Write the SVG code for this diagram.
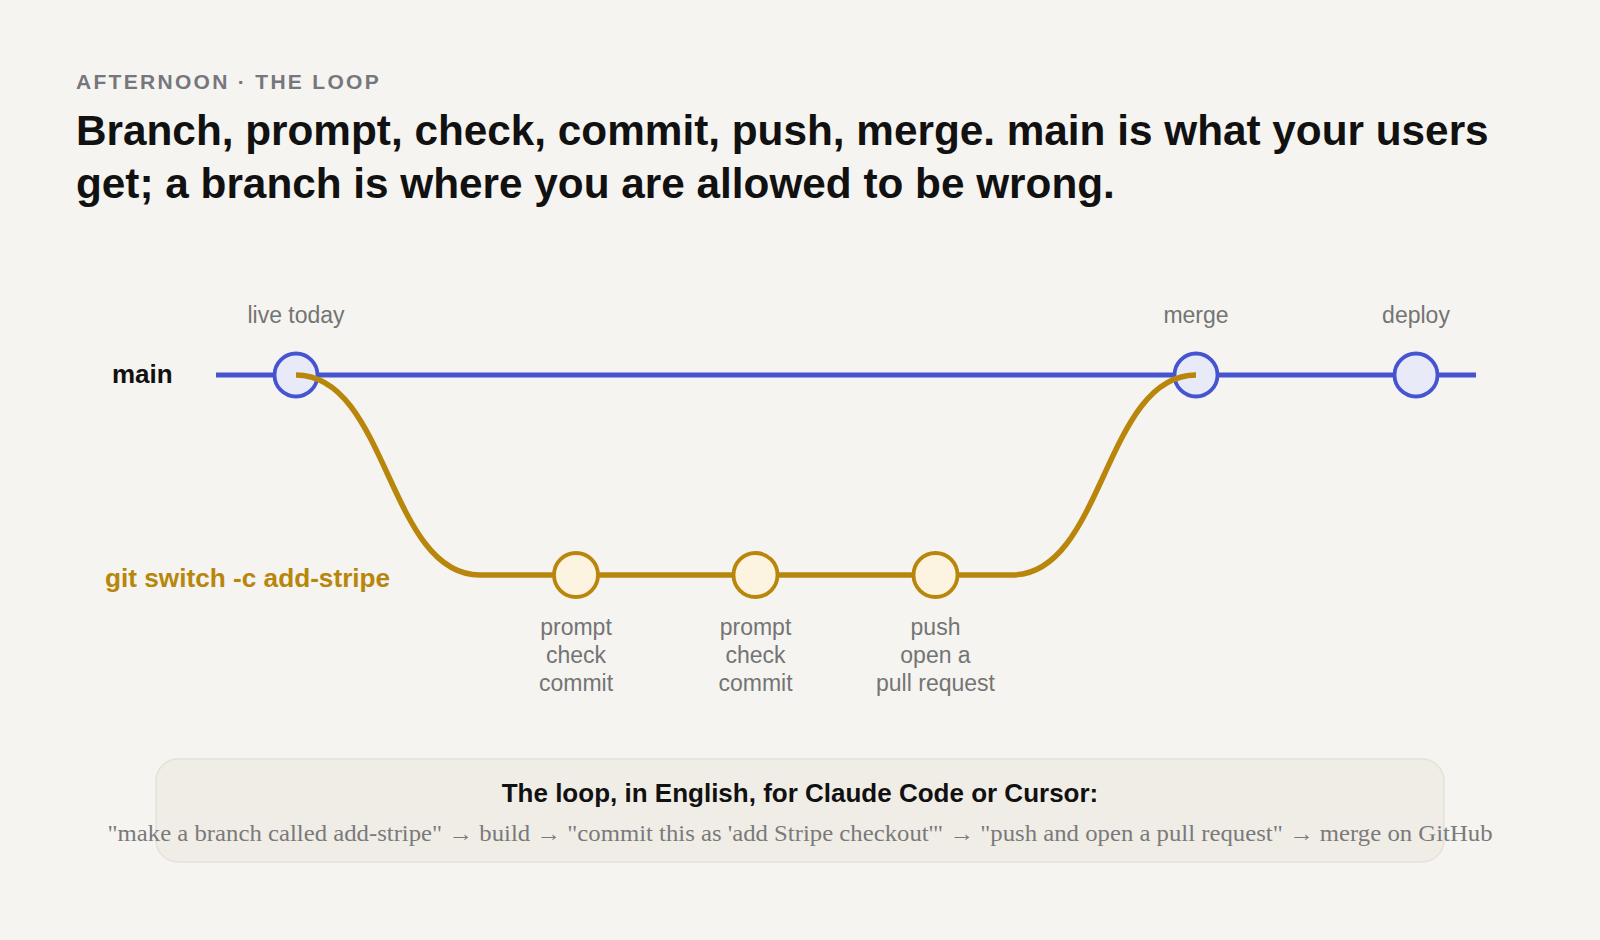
<svg xmlns="http://www.w3.org/2000/svg" width="1600" height="940" viewBox="0 0 1600 940">
<style>
.sans{font-family:"Liberation Sans",Arial,Helvetica,sans-serif}
.eyebrow{font-size:21px;font-weight:700;fill:#76777c;letter-spacing:2.3px}
.title{font-size:42.3px;font-weight:700;fill:#111}
.lbl{font-size:23px;fill:#747474;text-anchor:middle}
.main-lbl{font-size:26px;font-weight:700;fill:#111}
.br-lbl{font-size:26.2px;font-weight:700;fill:#b8860b}
.mline{stroke:#4654cf;stroke-width:5;fill:none}
.bline{stroke:#b8860b;stroke-width:5.5;fill:none}
.mnode{fill:#e9eaf8;stroke:#4654cf;stroke-width:3.8}
.bnode{fill:#fdf3e1;stroke:#b8860b;stroke-width:3.8}
.note-title{font-size:26px;font-weight:700;fill:#111;text-anchor:middle}
.note-body{font-family:"Liberation Serif","Times New Roman",serif;font-size:23px;fill:#7a7a7a;text-anchor:middle}
</style>
<rect width="1600" height="940" fill="#f5f4f0"/>
<text class="sans eyebrow" x="76" y="89">AFTERNOON · THE LOOP</text>
<text class="sans title" x="76" y="145">Branch, prompt, check, commit, push, merge. main is what your users</text>
<text class="sans title" x="76" y="198">get; a branch is where you are allowed to be wrong.</text>

<text class="sans main-lbl" x="112" y="383">main</text>
<text class="sans br-lbl" x="105" y="587">git switch -c add-stripe</text>

<g id="main-line"><line class="mline" x1="216" y1="375" x2="1476" y2="375"/></g>

<g id="node-live-today">
<circle class="mnode" cx="296" cy="375" r="21.5"/>
<text class="sans lbl" x="296" y="323">live today</text>
</g>
<g id="node-merge">
<circle class="mnode" cx="1196" cy="375" r="21.5"/>
<text class="sans lbl" x="1196" y="323">merge</text>
</g>
<g id="node-deploy">
<circle class="mnode" cx="1416" cy="375" r="21.5"/>
<text class="sans lbl" x="1416" y="323">deploy</text>
</g>

<g id="connectors">
<path class="bline" d="M296,375 C388,375 388,575 480,575 L1012,575 C1104,575 1104,375 1196,375"/>
</g>

<g id="node-commit-1">
<circle class="bnode" cx="576" cy="575" r="22"/>
<text class="sans lbl" x="576" y="635">prompt</text>
<text class="sans lbl" x="576" y="663">check</text>
<text class="sans lbl" x="576" y="691">commit</text>
</g>
<g id="node-commit-2">
<circle class="bnode" cx="755.5" cy="575" r="22"/>
<text class="sans lbl" x="755.5" y="635">prompt</text>
<text class="sans lbl" x="755.5" y="663">check</text>
<text class="sans lbl" x="755.5" y="691">commit</text>
</g>
<g id="node-push">
<circle class="bnode" cx="935.5" cy="575" r="22"/>
<text class="sans lbl" x="935.5" y="635">push</text>
<text class="sans lbl" x="935.5" y="663">open a</text>
<text class="sans lbl" x="935.5" y="691">pull request</text>
</g>

<g id="note">
<rect x="156" y="759" width="1288" height="103" rx="22" fill="#f0ede7" stroke="#e4e1da" stroke-width="1.5"/>
<text class="sans note-title" x="800" y="802">The loop, in English, for Claude Code or Cursor:</text>
<text class="note-body" x="800" y="841" textLength="1385" lengthAdjust="spacingAndGlyphs">"make a branch called add-stripe" → build → "commit this as 'add Stripe checkout'" → "push and open a pull request" → merge on GitHub</text>
</g>
</svg>
